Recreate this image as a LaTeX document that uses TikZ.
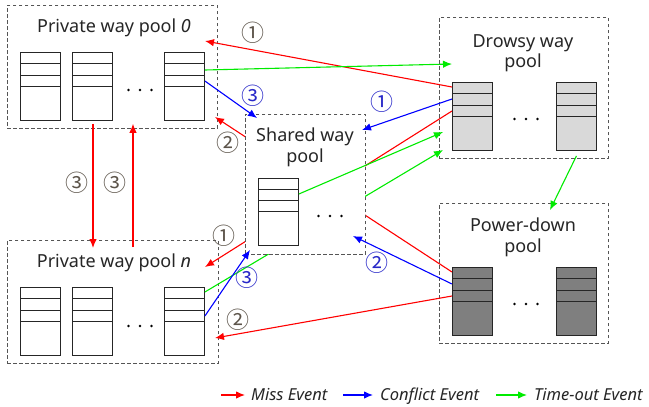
\documentclass[tikz,border=0pt]{standalone}
\usepackage{fontspec}
\setmainfont{Noto Sans}
\newfontfamily\cjkfont{Noto Sans CJK KR}
\usetikzlibrary{arrows.meta}

\definecolor{missred}{RGB}{255,0,0}
\definecolor{conflictblue}{RGB}{0,0,255}
\definecolor{timegreen}{RGB}{0,235,0}
\definecolor{drowsyfill}{RGB}{217,217,217}
\definecolor{offfill}{RGB}{127,127,127}
\definecolor{stepgray}{RGB}{92,84,74}
\definecolor{stepblue}{RGB}{40,40,200}
\definecolor{poolline}{RGB}{85,85,85}

% one cache way: a tall box split by three lines near its top
\newcommand\waystack[4]{%
  \node[way, fill=#4] (#1) at (#2,#3) {};
  \foreach \d in {11.5,23,34.5}{%
    \draw[wayline] ([yshift=-\d pt]#1.north west) -- ([yshift=-\d pt]#1.north east);}
}
% three dots between the ways
\newcommand\waydots[2]{%
  \foreach \dx in {-11.5,0,11.5}{\fill[black] (#1+\dx,#2) circle (1.3pt);}
}

\begin{document}
\begin{tikzpicture}[x=1pt,y=-1pt,
  pool/.style={draw=poolline, line width=0.8pt, dash pattern=on 3.5pt off 2.5pt,
    fill=white, inner sep=0, anchor=north west},
  way/.style={draw=black!85, line width=0.9pt, minimum width=40pt,
    minimum height=68pt, inner sep=0, anchor=north west},
  wayline/.style={draw=black!85, line width=0.9pt},
  title/.style={font=\fontsize{18}{21}\selectfont, text=black!85, inner sep=0, anchor=base},
  stepnum/.style={font=\cjkfont\fontsize{23}{23}\selectfont, inner sep=0, text=stepgray},
  stepnumb/.style={stepnum, text=stepblue},
  tip/.style={-{Latex[length=9pt,width=7.5pt]}},
  miss/.style={draw=missred, line width=1.1pt, tip},
  conflict/.style={draw=conflictblue, line width=1.1pt, tip},
  timeout/.style={draw=timegreen, line width=1.1pt, tip},
  legend/.style={font=\fontsize{16.5}{16.5}\selectfont\itshape, text=black!85, inner sep=0, anchor=base west}
]
\useasboundingbox (0,0) rectangle (649,407);

% ---- private, drowsy and power-down pools ----
\node[pool, minimum width=210pt, minimum height=123pt] (P0) at (7,5) {};
\node[title] (tP0) at (114,32) {Private way pool \textit{0}};
\waystack{p0a}{20}{52}{white}
\waystack{p0b}{72}{52}{white}
\waystack{p0c}{164}{52}{white}
\waydots{140}{90}

\node[pool, minimum width=211pt, minimum height=123pt] (Pn) at (7,240) {};
\node[title] (tPn) at (114,267) {Private way pool \textit{n}};
\waystack{pna}{20}{287}{white}
\waystack{pnb}{72}{287}{white}
\waystack{pnc}{164}{287}{white}
\waydots{140}{326}

\node[pool, minimum width=169pt, minimum height=141pt] (D) at (439,17) {};
\node[title] (tD1) at (523,47) {Drowsy way};
\node[title] (tD2) at (523,67) {pool};
\waystack{da}{452}{82}{drowsyfill}
\waystack{db}{556}{82}{drowsyfill}
\waydots{526}{119}

\node[pool, minimum width=169pt, minimum height=140pt] (PD) at (439,203) {};
\node[title] (tPD1) at (523,231) {Power-down};
\node[title] (tPD2) at (523,252) {pool};
\waystack{pda}{452}{267}{offfill}
\waystack{pdb}{556}{267}{offfill}
\waydots{526}{304}

% ---- free ends of the event arrows ----
\coordinate (m1) at (205,41);
\coordinate (m2) at (215,117);
\coordinate (m3) at (205,267);
\coordinate (m4) at (215,338);
\coordinate (c1) at (362,130);
\coordinate (c2) at (353,236);
\coordinate (c3) at (257,118);
\coordinate (c4) at (250,250);
\coordinate (t1) at (452,64);
\coordinate (t2) at (443,132);
\coordinate (t3) at (443,150);
\coordinate (t4) at (550,210);

% arrows that run behind the shared pool
\draw[miss] ([yshift=-5pt]pda.north west) -- (m2);
\draw[miss] ([yshift=-29pt]da.north west) -- (m3);
\draw[timeout] ([yshift=-5pt]pnc.north east) -- (t3);

% ---- shared pool ----
\node[pool, minimum width=120pt, minimum height=140pt] (S) at (245,114) {};
\node[title] (tS1) at (305,141) {Shared way};
\node[title] (tS2) at (305,162) {pool};
\node[way, fill=white, minimum height=67pt] (sa) at (258,178) {};
\foreach \d in {11,22,33}{%
  \draw[wayline] ([yshift=-\d pt]sa.north west) -- ([yshift=-\d pt]sa.north east);}
\waydots{330}{216}

% ---- remaining event arrows ----
\draw[miss] ([yshift=-5pt]da.north west) -- (m1);
\draw[timeout] ([yshift=-18pt]p0c.north east) -- (t1);
\draw[conflict] ([yshift=-29pt]p0c.north east) -- (c3);
\draw[conflict] ([yshift=-17pt]da.north west) -- (c1);
\draw[timeout] ([yshift=-16pt]sa.north east) -- (t2);
\draw[conflict] ([yshift=-29pt]pnc.north east) -- (c4);
\draw[conflict] ([yshift=-17pt]pda.north west) -- (c2);
\draw[miss] ([yshift=-29pt]pda.north west) -- (m4);
\draw[timeout] ([yshift=-5pt]db.south) -- (t4);
\draw[miss] ([xshift=86pt,yshift=5pt]P0.south west) -- ([xshift=86pt,yshift=-8pt]Pn.north west);
\draw[miss] ([xshift=126pt,yshift=-7pt]Pn.north west) -- ([xshift=126pt,yshift=5pt]P0.south west);

% ---- step numbers ----
\node[stepnum]  (n1) at (253,33)  {①};
\node[stepnumb] (n2) at (253,96)  {③};
\node[stepnum]  (n3) at (228,143) {②};
\node[stepnumb] (n4) at (382,102) {①};
\node[stepnum]  (n5) at (224,236) {①};
\node[stepnumb] (n6) at (247,278) {③};
\node[stepnumb] (n7) at (377,263) {②};
\node[stepnum]  (n8) at (238,320) {②};
\node[stepnum]  (n9) at (77,183)  {③};
\node[stepnum]  (n10) at (115,183) {③};

% ---- legend ----
\node[legend] (lmiss) at (251,400.5) {Miss Event};
\node[legend] (lconf) at (380,400.5) {Conflict Event};
\node[legend] (ltime) at (534,400.5) {Time-out Event};
\draw[miss] ([xshift=-30pt,yshift=5.5pt]lmiss.base west) -- ([xshift=-6pt,yshift=5.5pt]lmiss.base west);
\draw[conflict] ([xshift=-37pt,yshift=5.5pt]lconf.base west) -- ([xshift=-7pt,yshift=5.5pt]lconf.base west);
\draw[timeout] ([xshift=-38pt,yshift=5.5pt]ltime.base west) -- ([xshift=-7pt,yshift=5.5pt]ltime.base west);
\end{tikzpicture}
\end{document}
